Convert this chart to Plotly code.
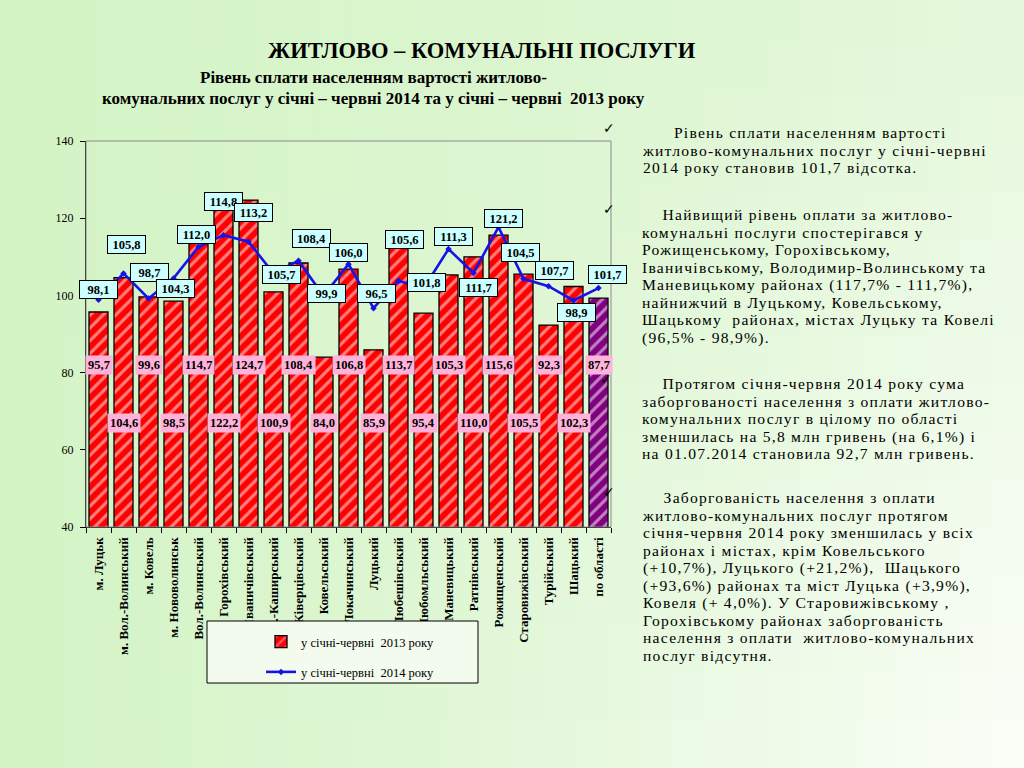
import plotly.graph_objects as go

# ---------------- data ----------------
categories = ["м. Луцьк", "м. Вол.-Волинський", "м. Ковель", "м. Нововолинськ",
              "Вол.-Волинський", "Горохівський", "Іваничівський", "Кам.-Каширський",
              "Ківерцівський", "Ковельський", "Локачинський", "Луцький",
              "Любешівський", "Любомльський", "Маневицький", "Ратнівський",
              "Рожищенський", "Старовижівський", "Турійський", "Шацький", "по області"]
values_2013 = [95.7, 104.6, 99.6, 98.5, 114.7, 122.2, 124.7, 100.9, 108.4, 84.0, 106.8,
               85.9, 112.3, 95.4, 105.3, 110.0, 115.6, 105.5, 92.3, 102.3, 99.3]
values_2014 = [98.9, 105.7, 99.2, 104.4, 112.6, 115.6, 113.9, 105.7, 109.0, 99.9, 108.1,
               96.7, 103.8, 101.8, 112.0, 105.8, 117.7, 104.3, 102.4, 98.7, 101.9]
labels_2013 = ["95,7", "104,6", "99,6", "98,5", "114,7", "122,2", "124,7", "100,9", "108,4",
               "84,0", "106,8", "85,9", "113,7", "95,4", "105,3", "110,0", "115,6", "105,5",
               "92,3", "102,3", "87,7"]
labels_2014 = ["98,1", "105,8", "98,7", "104,3", "112,0", "114,8", "113,2", "105,7", "108,4",
               "99,9", "106,0", "96,5", "105,6", "101,8", "111,3", "111,7", "121,2", "104,5",
               "107,7", "98,9", "101,7"]
y_ticks = [40, 60, 80, 100, 120, 140]
series_names = ["у січні-червні  2013 року", "у січні-червні  2014 року"]

title_main = "ЖИТЛОВО – КОМУНАЛЬНІ ПОСЛУГИ"
subtitle_lines = ["Рівень сплати населенням вартості житлово-",
                  "комунальних послуг у січні – червні 2014 та у січні – червні  2013 року"]
paragraphs = [
    ["Рівень сплати населенням вартості",
     "житлово-комунальних послуг у січні-червні",
     "2014 року становив 101,7 відсотка."],
    ["Найвищий рівень оплати за житлово-",
     "комунальні послуги спостерігався у",
     "Рожищенському, Горохівському,",
     "Іваничівському, Володимир-Волинському та",
     "Маневицькому районах (117,7% - 111,7%),",
     "найнижчий в Луцькому, Ковельському,",
     "Шацькому  районах, містах Луцьку та Ковелі",
     "(96,5% - 98,9%)."],
    ["Протягом січня-червня 2014 року сума",
     "заборгованості населення з оплати житлово-",
     "комунальних послуг в цілому по області",
     "зменшилась на 5,8 млн гривень (на 6,1%) і",
     "на 01.07.2014 становила 92,7 млн гривень."],
    ["Заборгованість населення з оплати",
     "житлово-комунальних послуг протягом",
     "січня-червня 2014 року зменшилась у всіх",
     "районах і містах, крім Ковельського",
     "(+10,7%), Луцького (+21,2%),  Шацького",
     "(+93,6%) районах та міст Луцька (+3,9%),",
     "Ковеля (+ 4,0%). У Старовижівському ,",
     "Горохівському районах заборгованість",
     "населення з оплати  житлово-комунальних",
     "послуг відсутня."],
]

# ---------------- layout constants (pixels) ----------------
W, H = 1024, 768
PL, PR, PT, PB = 86, 611, 141, 527
label2014_offsets = [(0, -10), (3, -29), (1, -26), (1.5, 10), (-2.5, -12.5), (0, -34),
                     (4.5, -29), (7.5, 1), (13, -22.5), (3, -2), (0, -11.5), (3, -15),
                     (5.5, -41), (3, -6), (4.5, -12.5), (5, 14), (4.5, -9), (-3, -26),
                     (6, -15.5), (3, 12), (9, -14)]
row_upper, row_lower = 82.0, 66.9
para_indent = [6, 4, 4, 4]            # non-breaking spaces before first line
para_top_y = [122.5, 204.5, 373.5, 487.5]
para_font = 15.6
para_letter_spacing = 1.25
para_line_px = 17.5
checks = [(609, 128), (609, 209), (606, 379), (609, 492)]


def pxx(x):
    return (x - PL) / (PR - PL)


def pyy(y):
    return (PB - y) / (PB - PT)


n = len(categories)
bar_colors = ["#ff0000"] * (n - 1) + ["#800080"]
stripe_colors = ["#ff99cc"] * (n - 1) + ["#d9a6ff"]

fig = go.Figure()
fig.add_trace(go.Bar(
    x=categories, y=values_2013, name=series_names[0], width=0.76, legendgroup="g0",
    marker=dict(color=bar_colors, line=dict(color="black", width=1.3),
                pattern=dict(shape="/", fgcolor=stripe_colors, size=9, solidity=0.35)),
))
fig.add_trace(go.Scatter(
    x=categories, y=values_2014, name=series_names[1], mode="lines+markers", legendgroup="g1",
    line=dict(color="#1414e8", width=2.6),
    marker=dict(color="#1414e8", size=5, symbol="diamond"),
))

shapes = []
# page gradient background
NX, NY = 32, 16
g0 = (212, 244, 198)
g1 = (250, 254, 247)
for i in range(NX):
    for j in range(NY):
        tx = (i + 0.5) / NX
        ty = (j + 0.5) / NY
        t = min(1.0, (tx ** 1.3) * (0.45 + 0.6 * ty))
        c = tuple(int(g0[k] + (g1[k] - g0[k]) * t) for k in range(3))
        x0 = i * W / NX
        x1 = (i + 1) * W / NX
        y0 = j * H / NY
        y1 = (j + 1) * H / NY
        shapes.append(dict(type="rect", xref="paper", yref="paper", layer="below",
                           x0=pxx(x0) - 0.001, x1=pxx(x1) + 0.001,
                           y0=pyy(y0) + 0.001, y1=pyy(y1) - 0.001,
                           line=dict(width=0), fillcolor="rgb(%d,%d,%d)" % c))
# plot frame (top/right grey)
shapes.append(dict(type="rect", xref="paper", yref="paper", layer="above",
                   x0=0, x1=1, y0=0, y1=1, line=dict(color="#8a8a8a", width=1)))
# legend box
shapes.append(dict(type="rect", xref="paper", yref="paper", layer="above",
                   x0=pxx(207), x1=pxx(478), y0=pyy(621), y1=pyy(683),
                   line=dict(color="black", width=1), fillcolor="#f3fbee"))

ann = []
# 2014 labels
for i, (c, v, t) in enumerate(zip(categories, values_2014, labels_2014)):
    dx, dy = label2014_offsets[i]
    ann.append(dict(x=c, y=v, xref="x", yref="y", text="<b>%s</b>" % t, showarrow=False,
                    xshift=dx, yshift=-dy, xanchor="center", yanchor="middle",
                    font=dict(family="Liberation Serif", size=12.5, color="black"),
                    bgcolor="#ccffff", bordercolor="black", borderwidth=1,
                    width=35, height=15, borderpad=1))
# 2013 labels
for i, (c, t) in enumerate(zip(categories, labels_2013)):
    yrow = row_upper if i % 2 == 0 else row_lower
    ann.append(dict(x=c, y=yrow, xref="x", yref="y", text="<b>%s</b>" % t, showarrow=False,
                    xanchor="center", yanchor="middle",
                    font=dict(family="Liberation Serif", size=12.5, color="black"),
                    bgcolor="#ffb3da", borderpad=2))
# titles
ann.append(dict(x=pxx(482), y=pyy(50), xref="paper", yref="paper", showarrow=False,
                text="<b>%s</b>" % title_main, xanchor="center", yanchor="middle",
                font=dict(family="Liberation Serif", size=22.5, color="black")))
for k, (line, yy) in enumerate(zip(subtitle_lines, [77, 98])):
    ann.append(dict(x=pxx(373), y=pyy(yy), xref="paper", yref="paper", showarrow=False,
                    text="<b>%s</b>" % line, xanchor="center", yanchor="middle",
                    font=dict(family="Liberation Serif", size=17, color="black")))
# right text: one annotation per paragraph; base font sets the line pitch,
# inner spans set glyph size and the horizontal stretch of the slide text
base_size = para_line_px / 1.3
for p, lines in enumerate(paragraphs):
    parts = []
    for k, line in enumerate(lines):
        txt = ("\u00a0" * para_indent[p] + line) if k == 0 else line
        parts.append('<span style="font-size:%.1fpx;letter-spacing:%.2fpx">%s</span>'
                     % (para_font, para_letter_spacing, txt))
    ann.append(dict(x=pxx(641), y=pyy(para_top_y[p]), xref="paper", yref="paper",
                    showarrow=False, text="<br>".join(parts), xanchor="left", yanchor="top",
                    align="left", borderpad=0,
                    font=dict(family="Liberation Serif", size=base_size, color="black")))
for (cx, cy) in checks:
    ann.append(dict(x=pxx(cx), y=pyy(cy), xref="paper", yref="paper", showarrow=False,
                    text="✓", xanchor="center", yanchor="middle",
                    font=dict(family="DejaVu Sans", size=14, color="black")))

fig.update_layout(
    width=W, height=H, autosize=False,
    margin=dict(l=PL, r=W - PR, t=PT, b=H - PB, pad=0),
    paper_bgcolor="#eaf8e0", plot_bgcolor="#ccffcc",
    font=dict(family="Liberation Serif", color="black"),
    showlegend=True,
    legend=dict(x=pxx(261), y=pyy(627), xanchor="left", yanchor="top",
                bgcolor="rgba(0,0,0,0)", borderwidth=0, tracegroupgap=11,
                font=dict(family="Liberation Serif", size=12.5, color="black"),
                itemwidth=30, traceorder="grouped"),
    shapes=shapes,
    annotations=ann,
)
fig.update_xaxes(type="category", range=[-0.5, n - 0.5], autorange=False,
                 showline=True, linecolor="black", linewidth=1.3,
                 ticks="outside", ticklen=5, tickcolor="black", tickson="boundaries",
                 tickangle=-90, showgrid=False, zeroline=False, ticklabelstandoff=4,
                 tickfont=dict(family="Liberation Serif", size=13, color="black", weight="bold"))
fig.update_yaxes(range=[40, 140], tickvals=y_ticks, showline=True, linecolor="black",
                 linewidth=1.3, ticks="outside", ticklen=5, tickcolor="black",
                 showgrid=False, zeroline=False, ticklabelstandoff=4,
                 tickfont=dict(family="Liberation Serif", size=12, color="black"))

fig.write_html("out.html", config={"displayModeBar": False},
               post_script="document.body.style.margin='0';document.body.style.overflow='hidden';")
